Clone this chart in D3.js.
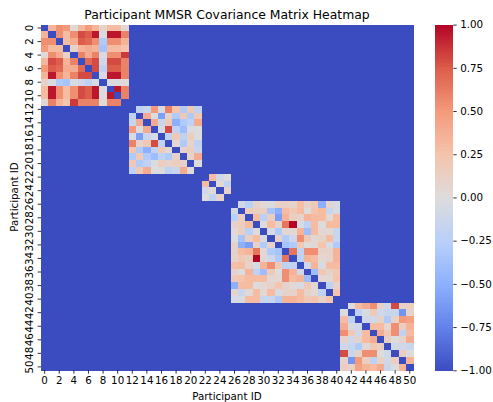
<!DOCTYPE html>
<html><head><meta charset="utf-8">
<script src="https://cdn.jsdelivr.net/npm/d3@7"></script>
<style>html,body{margin:0;background:#fff}text{font-family:"DejaVu Sans",sans-serif;fill:#000}</style>
</head><body><svg id="c" width="493" height="402"></svg>
<script>
// Upper triangles (row by row, diagonal excluded; diagonal is -1)
const block1 = [
 [.35,.55,.5,.03,.33,.5,.35,.1,.3,.3,.05],
 [.55,.3,.55,.8,.75,.95,-.02,.95,.95,.6],
 [.3,.4,.75,.7,.55,-.3,.55,.55,.35],
 [.1,.35,.4,.35,-.35,.3,.3,.25],
 [.6,.4,.6,-.05,.55,.55,.85],
 [.7,.8,-.1,.8,.8,.6],
 [.8,-.2,.75,.75,.6],
 [-.05,.95,.95,.6],
 [-.02,-.02,.02],
 [.95,.6],
 [.6]
];
const block2 = [
 [-.2,-.15,.5,-.05,.6,.25,-.3,.2,-.2],
 [.4,0,-.6,.1,-.3,.2,-.3,.2],
 [.4,-.15,.2,-.5,-.3,-.2,.4],
 [-.05,.8,-.2,-.4,-.02,0],
 [-.2,.2,-.2,.15,0],
 [.05,-.3,.1,-.2],
 [.1,.15,-.15],
 [.1,.4],
 [0]
];
const block3 = [[.3,-.1,0],[.03,-.2],[.1]];
const block4 = [
 [-.08,-.25,.1,.03,-.03,.12,.12,.1,.28,.1,.2,-.5,.08,-.05],
 [.15,.15,.15,-.35,-.5,.3,.2,.3,0,.25,.3,-.15,-.05],
 [.3,-.25,.15,-.6,.35,.15,.1,.35,.3,.3,.05,.3],
 [0,.3,.1,.65,1,-.05,-.2,.3,0,.3,.3],
 [-.05,-.3,.05,.05,.35,-.4,.3,.05,.05,-.15],
 [.1,-.3,-.1,.55,.2,.05,.1,.3,-.15],
 [-.35,-.3,.2,0,.05,.25,-.05,-.3],
 [.65,-.2,.55,.55,.1,.1,.35],
 [-.2,.35,.3,.05,.1,.35],
 [-.1,.35,-.05,.3,.3],
 [-.4,.2,.1,.2],
 [.05,.05,.25],
 [-.2,.1],
 [.25]
];
const block5 = [
 [0,.3,.4,.55,.1,-.1,.8,.1,.15],
 [-.2,-.05,.2,-.1,-.15,-.15,-.65,.1],
 [-.1,-.1,.1,-.3,.1,.5,.45],
 [.3,.3,.05,.55,.15,.35],
 [.4,.2,.55,-.2,.3],
 [.15,0,.1,.4],
 [-.1,-.1,-.15],
 [.15,0],
 [.35]
];
const xyTicks = d3.range(0, 51, 2);
const cbTicks = [-1,-.75,-.5,-.25,0,.25,.5,.75,1];
const cmapStops = ["#3b4cc0","#6282ea","#8db0fe","#b9d0f9","#dddcdc","#f5c4ac","#f49a7b","#dc5d4a","#b40426"];
const titleText = "Participant MMSR Covariance Matrix Heatmap";
const axisText = "Participant ID";

const N = 51;
const ids = d3.range(N);
const matrix = ids.map(() => ids.map(() => -1));
let offset = 0;
const blocks = [block1, block2, block3, block4, block5];
blocks.forEach(b => {
  const size = b.length + 1;
  b.forEach((row, i) => row.forEach((v, k) => {
    const j = i + k + 1;
    matrix[offset + i][offset + j] = v;
    matrix[offset + j][offset + i] = v;
  }));
  offset += size;
});
const cells = [];
matrix.forEach((r, i) => r.forEach((v, j) => cells.push({i, j, v})));

const svg = d3.select("#c");
const L = 41, R = 413.4, T = 24.6, B = 370.3;
const x = d3.scaleBand().domain(ids).range([L, R]);
const y = d3.scaleBand().domain(ids).range([T, B]);
const color = d3.scaleLinear().domain(d3.range(9).map(i => -1 + i * .25)).range(cmapStops).interpolate(d3.interpolateRgb);

svg.append("g").attr("shape-rendering", "crispEdges").selectAll("rect").data(cells).join("rect")
  .attr("x", d => x(d.j)).attr("y", d => y(d.i))
  .attr("width", x.bandwidth() + .4).attr("height", y.bandwidth() + .4)
  .attr("fill", d => color(d.v));

const fs = 10.3;
const ax = svg.append("g").attr("transform", `translate(0,${B})`)
  .call(d3.axisBottom(x).tickValues(xyTicks).tickSize(3.4).tickPadding(3));
const ay = svg.append("g").attr("transform", `translate(${L},0)`)
  .call(d3.axisLeft(y).tickValues(xyTicks).tickSize(3.4).tickPadding(3));
[ax, ay].forEach(a => {
  a.select(".domain").remove();
  a.selectAll("line").attr("stroke", "#000").attr("stroke-width", .8);
  a.selectAll("text").attr("font-size", fs).attr("font-family", "DejaVu Sans");
});
ay.selectAll("text")
  .attr("text-anchor", "middle").attr("dy", 0).attr("x", 0).attr("y", 0)
  .attr("dominant-baseline", "auto")
  .attr("transform", "translate(-8,0) rotate(-90)");

// colourbar
const cbL = 435, cbR = 453.3;
const cy = d3.scaleLinear().domain([-1, 1]).range([B, T]);
svg.append("g").attr("shape-rendering", "crispEdges").selectAll("rect").data(d3.range(-1, 1, 2 / 256)).join("rect")
  .attr("x", cbL).attr("width", cbR - cbL)
  .attr("y", d => cy(d + 2 / 256)).attr("height", d => cy(d) - cy(d + 2 / 256) + .5)
  .attr("fill", d => color(d + 1 / 256));
const ac = svg.append("g").attr("transform", `translate(${cbR},0)`)
  .call(d3.axisRight(cy).tickValues(cbTicks).tickSize(3.4).tickPadding(3.5).tickFormat(d => d3.format(".2f")(d).replace("-", "\u2212")));
ac.select(".domain").remove();
ac.selectAll("line").attr("stroke", "#000").attr("stroke-width", .8);
ac.selectAll("text").attr("font-size", fs).attr("font-family", "DejaVu Sans");

svg.append("text").attr("x", 227).attr("y", 19).attr("text-anchor", "middle").attr("font-size", 12.4).text(titleText);
svg.append("text").attr("x", 227).attr("y", 400).attr("text-anchor", "middle").attr("font-size", fs).text(axisText);
svg.append("text").attr("transform", "translate(17.5,197) rotate(-90)").attr("text-anchor", "middle").attr("font-size", fs).text(axisText);
</script></body></html>
